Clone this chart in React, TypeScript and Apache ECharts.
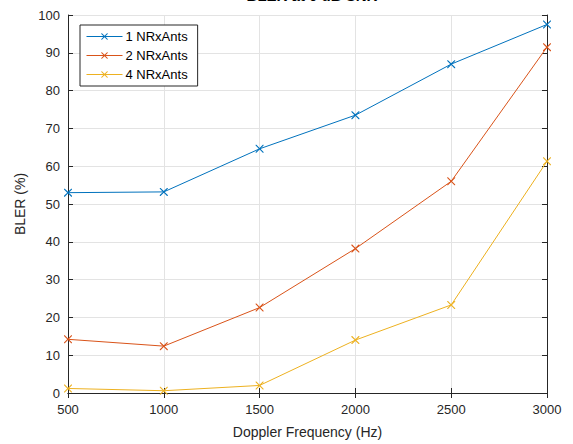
import React, { useEffect, useRef } from "react";
import * as echarts from "echarts";

const titleText = "BLER at 0 dB SNR";
const dopplerHz = [500, 1000, 1500, 2000, 2500, 3000];
const seriesNames = ["1 NRxAnts", "2 NRxAnts", "4 NRxAnts"];
const bler1 = [53.0, 53.2, 64.6, 73.5, 87.0, 97.5];
const bler2 = [14.2, 12.4, 22.6, 38.2, 56.0, 91.5];
const bler4 = [1.2, 0.6, 2.0, 14.0, 23.3, 61.3];
const colors = ["#0072BD", "#D95319", "#EDB120"];

const X_SYMBOL =
  "path://M0,0L1,0L5,4L9,0L10,0L10,1L6,5L10,9L10,10L9,10L5,6L1,10L0,10L0,9L4,5L0,1Z";

const FONT = "'Liberation Sans', Arial, Helvetica, sans-serif";

export default function App() {
  const ref = useRef<HTMLDivElement>(null);
  useEffect(() => {
    if (!ref.current) return;
    const chart = echarts.init(ref.current, undefined, { renderer: "svg" });
    const values = [bler1, bler2, bler4];
    const tickStyle = { show: true, inside: true, length: 5, lineStyle: { color: "#262626" } };
    const lineAxis = { show: true, lineStyle: { color: "#262626", width: 1 } };
    chart.setOption({
      animation: false,
      backgroundColor: "#ffffff",
      textStyle: { fontFamily: FONT },
      title: {
        text: titleText,
        left: 307,
        textAlign: "center",
        top: -17,
        textStyle: { fontSize: 15, fontWeight: "bold", color: "#000", fontFamily: FONT },
      },
      legend: {
        data: seriesNames,
        orient: "vertical",
        left: 80,
        top: 25,
        itemWidth: 36,
        itemHeight: 8,
        itemGap: 6,
        padding: [5, 10, 5, 6],
        borderColor: "#262626",
        borderWidth: 1,
        backgroundColor: "#fff",
        lineStyle: { width: 1 },
        textStyle: { fontSize: 13, color: "#000", fontFamily: FONT, padding: [0, 0, 0, -2] },
      },
      grid: { left: 68, top: 15, right: 26, bottom: 51, containLabel: false },
      xAxis: [
        {
          type: "value",
          min: 500,
          max: 3000,
          interval: 500,
          name: "Doppler Frequency (Hz)",
          nameLocation: "middle",
          nameGap: 32,
          nameTextStyle: { fontSize: 14, color: "#262626", fontFamily: FONT },
          axisLine: lineAxis,
          axisTick: tickStyle,
          axisLabel: {
            fontSize: 13,
            color: "#262626",
            margin: 10,
            fontFamily: FONT,
            formatter: (v: number) => String(v),
          },
          splitLine: { show: true, lineStyle: { color: "#e3e3e3", width: 1 } },
        },
        {
          type: "value",
          position: "top",
          min: 500,
          max: 3000,
          interval: 500,
          axisLine: lineAxis,
          axisTick: tickStyle,
          axisLabel: { show: false },
          splitLine: { show: false },
        },
      ],
      yAxis: [
        {
          type: "value",
          min: 0,
          max: 100,
          interval: 10,
          name: "BLER (%)",
          nameLocation: "middle",
          nameGap: 38,
          nameTextStyle: { fontSize: 14, color: "#262626", fontFamily: FONT },
          axisLine: lineAxis,
          axisTick: tickStyle,
          axisLabel: { fontSize: 13, color: "#262626", margin: 8, fontFamily: FONT },
          splitLine: { show: true, lineStyle: { color: "#e3e3e3", width: 1 } },
        },
        {
          type: "value",
          position: "right",
          min: 0,
          max: 100,
          interval: 10,
          axisLine: lineAxis,
          axisTick: tickStyle,
          axisLabel: { show: false },
          splitLine: { show: false },
        },
      ],
      series: seriesNames.map((name, i) => ({
        name,
        type: "line",
        xAxisIndex: 0,
        yAxisIndex: 0,
        data: dopplerHz.map((x, j) => [x, values[i][j]]),
        symbol: X_SYMBOL,
        symbolSize: 8,
        showAllSymbol: true,
        lineStyle: { color: colors[i], width: 1 },
        itemStyle: { color: colors[i] },
        emphasis: { disabled: true },
        z: 3,
      })),
    });
    return () => chart.dispose();
  }, []);
  return <div ref={ref} style={{ width: 573, height: 444, position: "absolute", left: 0, top: 0 }} />;
}
